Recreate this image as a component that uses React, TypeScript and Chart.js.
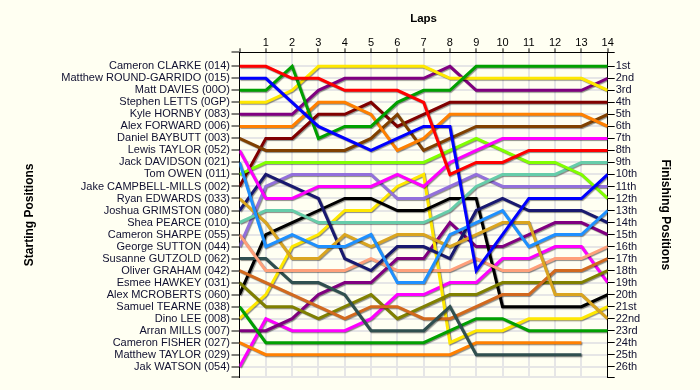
import React, { useEffect, useRef } from 'react';
import { Chart, registerables } from 'chart.js';

Chart.register(...registerables);

// ---------- data ----------
const laps = [0, 1, 2, 3, 4, 5, 6, 7, 8, 9, 10, 11, 12, 13, 14];

const startNames = [
  'Cameron CLARKE (014)',
  'Matthew ROUND-GARRIDO (015)',
  'Matt DAVIES (00O)',
  'Stephen LETTS (0GP)',
  'Kyle HORNBY (083)',
  'Alex FORWARD (006)',
  'Daniel BAYBUTT (003)',
  'Lewis TAYLOR (052)',
  'Jack DAVIDSON (021)',
  'Tom OWEN (011)',
  'Jake CAMPBELL-MILLS (002)',
  'Ryan EDWARDS (033)',
  'Joshua GRIMSTON (080)',
  'Shea PEARCE (010)',
  'Cameron SHARPE (055)',
  'George SUTTON (044)',
  'Susanne GUTZOLD (062)',
  'Oliver GRAHAM (042)',
  'Esmee HAWKEY (031)',
  'Alex MCROBERTS (060)',
  'Samuel TEARNE (038)',
  'Dino LEE (008)',
  'Arran MILLS (007)',
  'Cameron FISHER (027)',
  'Matthew TAYLOR (029)',
  'Jak WATSON (054)',
];

const finishLabels = [
  '1st', '2nd', '3rd', '4th', '5th', '6th', '7th', '8th', '9th', '10th',
  '11th', '12th', '13th', '14th', '15th', '16th', '17th', '18th', '19th', '20th',
  '21st', '22nd', '23rd', '24th', '25th', '26th',
];

// positions per lap (lap 0 .. lap 14)
const clarke = [1, 1, 2, 2, 3, 3, 3, 4, 10, 9, 9, 8, 8, 8, 8];
const roundGarrido = [2, 2, 4, 6, 7, 8, 7, 6, 6, 18, 15, 12, 12, 12, 10];
const davies = [3, 3, 1, 7, 6, 6, 4, 3, 3, 1, 1, 1, 1, 1, 1];
const letts = [4, 4, 3, 1, 1, 1, 1, 1, 2, 2, 2, 2, 2, 2, 3];
const hornby = [5, 5, 5, 3, 2, 2, 2, 2, 1, 3, 3, 3, 3, 3, 2];
const forward = [6, 6, 6, 4, 4, 5, 8, 7, 5, 5, 5, 5, 5, 5, 6];
const baybutt = [7, 8, 8, 8, 8, 7, 5, 8, 7, 6, 6, 6, 6, 6, 5];
const lTaylor = [8, 12, 12, 11, 11, 11, 10, 11, 9, 8, 7, 7, 7, 7, 7];
const davidson = [9, 16, 15, 16, 16, 15, 19, 19, 15, 14, 13, 16, 15, 15, 13];
const owen = [10, 9, 9, 9, 9, 9, 9, 9, 8, 7, 8, 9, 9, 10, 12];
const campbellMills = [11, 7, 7, 5, 5, 4, 6, 5, 4, 4, 4, 4, 4, 4, 4];
const edwards = [12, 14, 17, 17, 15, 16, 15, 15, 16, 15, 14, 14, 20, 20, 22];
const grimston = [13, 10, 11, 12, 17, 18, 16, 16, 17, 13, 12, 13, 13, 13, 14];
const pearce = [14, 13, 13, 14, 14, 14, 14, 14, 13, 11, 10, 10, 10, 9, 9];
const sharpe = [15, 18, 18, 18, 18, 17, 18, 18, 18, 17, 18, 18, 17, 17, 16];
const sutton = [16, 11, 10, 10, 10, 10, 12, 12, 11, 10, 11, 11, 11, 11, 11];
const gutzold = [17, 17, 19, 19, 20, 23, 23, 23, 21, 25, 25, 25, 25, 25];
const graham = [18, 19, 20, 21, 22, 21, 21, 22, 22, 21, 20, 20, 18, 18, 17];
const hawkey = [19, 21, 21, 22, 21, 20, 22, 21, 20, 20, 19, 19, 19, 19, 18];
const mcroberts = [20, 15, 14, 13, 12, 12, 13, 13, 12, 12, 21, 21, 21, 21, 20];
const tearne = [21, 24, 24, 24, 24, 24, 24, 24, 23, 22, 22, 23, 23, 23, 23];
const lee = [22, 20, 16, 15, 13, 13, 11, 10, 24, 23, 23, 22, 22, 22, 21];
const mills = [23, 23, 22, 20, 19, 19, 17, 17, 14, 16, 16, 15, 14, 14, 15];
const fisher = [24, 25, 25, 25, 25, 25, 25, 25, 25, 24, 24, 24, 24, 24];
const watson = [26, 22, 23, 23, 23, 22, 20, 20, 19, 19, 17, 17, 16, 16, 19];

const series = [
  clarke, roundGarrido, davies, letts, hornby, forward, baybutt, lTaylor,
  davidson, owen, campbellMills, edwards, grimston, pearce, sharpe, sutton,
  gutzold, graham, hawkey, mcroberts, tearne, lee, mills, fisher, watson,
];

const seriesNames = [
  'Cameron CLARKE', 'Matthew ROUND-GARRIDO', 'Matt DAVIES', 'Stephen LETTS',
  'Kyle HORNBY', 'Alex FORWARD', 'Daniel BAYBUTT', 'Lewis TAYLOR',
  'Jack DAVIDSON', 'Tom OWEN', 'Jake CAMPBELL-MILLS', 'Ryan EDWARDS',
  'Joshua GRIMSTON', 'Shea PEARCE', 'Cameron SHARPE', 'George SUTTON',
  'Susanne GUTZOLD', 'Oliver GRAHAM', 'Esmee HAWKEY', 'Alex MCROBERTS',
  'Samuel TEARNE', 'Dino LEE', 'Arran MILLS', 'Cameron FISHER', 'Jak WATSON',
];

const seriesColors = [
  '#FF0000', '#0000FF', '#00A000', '#FFE800', '#800080', '#FF8000', '#804000',
  '#FF00FF', '#1E90FF', '#80FF00', '#800000', '#DAA520', '#191970', '#66CDAA',
  '#FFA07A', '#9370DB', '#2F4F4F', '#D2691E', '#808000', '#000000', '#00A000',
  '#FFE800', '#800080', '#FF8000', '#FF00FF',
];

// ---------- styling ----------
const BG = '#FFFFF2';
const GRID = '#E6E6E6';
const FONT = "'Liberation Sans', Arial, sans-serif";
const Y_MIN = -0.165;
const Y_MAX = 26.88;

const shadowPlugin = {
  id: 'lineShadow',
  beforeDatasetsDraw(chart: any) {
    const ctx = chart.ctx;
    ctx.save();
    ctx.shadowColor = 'rgba(0,0,0,0.45)';
    ctx.shadowOffsetX = 1;
    ctx.shadowOffsetY = 1;
    ctx.shadowBlur = 1;
  },
  afterDatasetsDraw(chart: any) {
    chart.ctx.restore();
  },
};

function posTicks(scale: any) {
  const t = [{ value: Y_MIN }];
  for (let i = 1; i <= startNames.length; i++) t.push({ value: i });
  t.push({ value: Y_MAX });
  scale.ticks = t;
}

export default function App() {
  const ref = useRef<HTMLCanvasElement>(null);

  useEffect(() => {
    const canvas = ref.current;
    if (!canvas) return;
    const datasets = series.map((s, i) => ({
      label: seriesNames[i],
      data: s.map((v, j) => ({ x: laps[j], y: v })),
      borderColor: seriesColors[i],
      backgroundColor: seriesColors[i],
      borderWidth: 3,
      pointRadius: 0,
      pointHoverRadius: 0,
      tension: 0,
      fill: false,
      xAxisID: 'x',
      yAxisID: 'y',
    }));

    const chart = new Chart(canvas, {
      type: 'line',
      data: { datasets },
      plugins: [shadowPlugin],
      options: {
        responsive: false,
        animation: false,
        devicePixelRatio: 1,
        events: [],
        layout: { padding: { left: 0, right: 0, top: 0, bottom: 12.7 }, autoPadding: false },
        plugins: { legend: { display: false }, tooltip: { enabled: false } },
        scales: {
          x: {
            type: 'linear',
            position: 'top',
            min: 0,
            max: laps[laps.length - 1],
            afterBuildTicks: (scale: any) => {
              scale.ticks = laps.map((l) => ({ value: l }));
            },
            afterFit: (scale: any) => {
              scale.height = 52.3;
            },
            ticks: {
              autoSkip: false,
              maxRotation: 0,
              padding: 0,
              color: '#000',
              font: { family: FONT, size: 11, lineHeight: 1 },
              callback: (v: any) => (v === 0 ? '' : String(v)),
            },
            grid: {
              color: (c: any) =>
                c.tick && (c.tick.value === 0 || c.tick.value === laps[laps.length - 1])
                  ? 'rgba(0,0,0,0)'
                  : GRID,
              lineWidth: 2,
              tickColor: '#000',
              tickLength: 4,
              tickWidth: 1,
            },
            border: { display: true, color: '#000', width: 1 },
            title: {
              display: true,
              text: 'Laps',
              color: '#000',
              font: { family: FONT, size: 11.5, weight: 'bold' },
              padding: { top: 12.4, bottom: 0 },
            },
          },
          y: {
            type: 'linear',
            position: 'left',
            reverse: true,
            min: Y_MIN,
            max: Y_MAX,
            afterBuildTicks: posTicks,
            afterFit: (scale: any) => {
              scale.width = 239.5;
            },
            ticks: {
              autoSkip: false,
              padding: 1.5,
              color: '#101030',
              font: { family: FONT, size: 11 },
              callback: (v: any) => {
                const i = Math.round(v);
                return Math.abs(v - i) < 1e-6 && i >= 1 && i <= startNames.length ? startNames[i - 1] : '';
              },
            },
            grid: {
              color: (c: any) =>
                c.tick && c.tick.value === Y_MIN ? 'rgba(0,0,0,0)' : GRID,
              lineWidth: 2,
              tickColor: '#000',
              tickLength: 8,
              tickWidth: 1,
            },
            border: { display: true, color: '#000', width: 1 },
            title: {
              display: true,
              text: 'Starting Positions',
              color: '#000',
              font: { family: FONT, size: 12, weight: 'bold' },
              padding: { top: 22.8, bottom: 0 },
            },
          },
          y2: {
            type: 'linear',
            position: 'right',
            reverse: true,
            min: Y_MIN,
            max: Y_MAX,
            afterBuildTicks: posTicks,
            afterFit: (scale: any) => {
              scale.width = 92.3;
            },
            ticks: {
              autoSkip: false,
              padding: 1,
              color: '#101030',
              font: { family: FONT, size: 11 },
              callback: (v: any) => {
                const i = Math.round(v);
                return Math.abs(v - i) < 1e-6 && i >= 1 && i <= finishLabels.length ? finishLabels[i - 1] : '';
              },
            },
            grid: {
              drawOnChartArea: false,
              tickColor: '#000',
              tickLength: 7,
              tickWidth: 1,
            },
            border: { display: true, color: '#000', width: 1 },
            title: {
              display: true,
              text: 'Finishing Positions',
              color: '#000',
              font: { family: FONT, size: 12, weight: 'bold' },
              padding: { top: 27.8, bottom: 0 },
            },
          },
        },
      } as any,
    });
    return () => chart.destroy();
  }, []);

  return (
    <div style={{ position: 'fixed', left: 0, top: 0, width: 700, height: 390, background: BG }}>
      <canvas ref={ref} width={700} height={390} style={{ display: 'block', width: 700, height: 390 }} />
    </div>
  );
}
